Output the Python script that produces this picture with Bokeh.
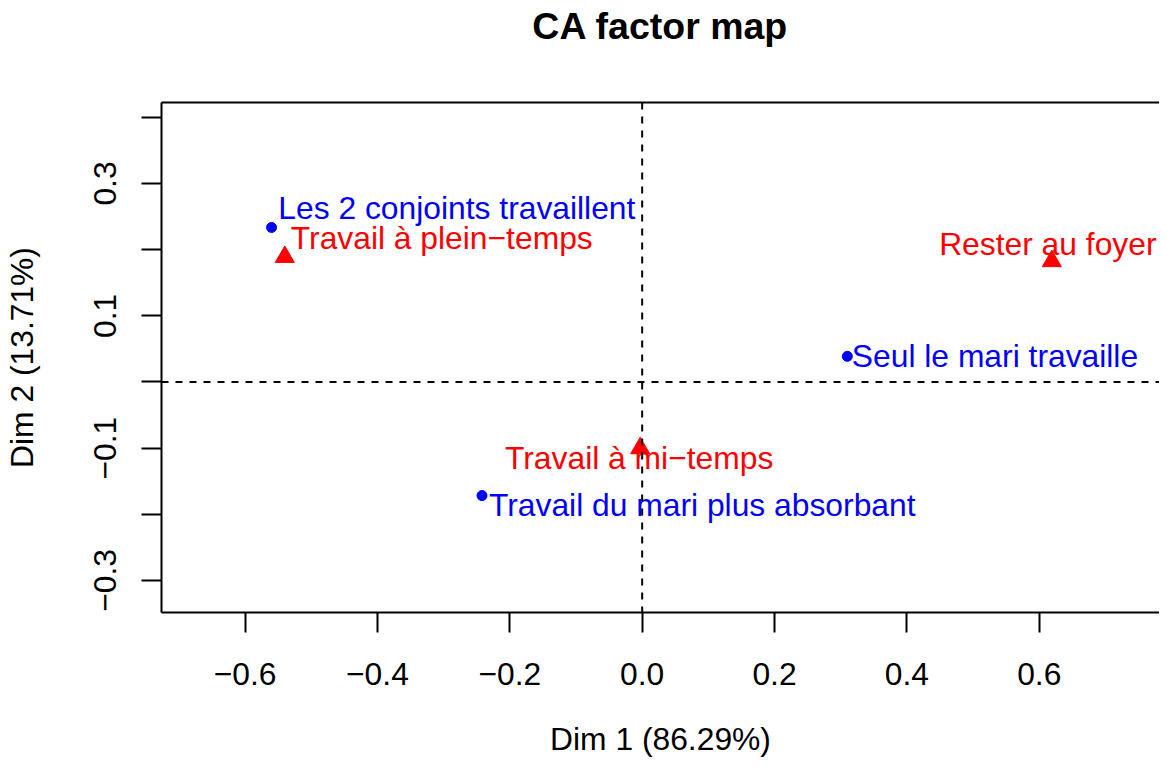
from bokeh.plotting import figure
from bokeh.models import ColumnDataSource, Span, LinearAxis, FixedTicker, Range1d
from bokeh.core.properties import value
from bokeh.embed import file_html
from bokeh.resources import INLINE

# ---- data -------------------------------------------------------------
row_labels = ["Les 2 conjoints travaillent", "Seul le mari travaille",
              "Travail du mari plus absorbant"]
row_dim1 = [-0.560, 0.310, -0.242]
row_dim2 = [0.2335, 0.0387, -0.1718]

col_labels = ["Travail à plein\u2212temps", "Rester au foyer", "Travail à mi\u2212temps"]
col_dim1 = [-0.540, 0.619, -0.003]
col_dim2 = [0.189, 0.1826, -0.1002]

x_ticks = [-0.6, -0.4, -0.2, 0.0, 0.2, 0.4, 0.6]
x_tick_labels = ["\u22120.6", "\u22120.4", "\u22120.2", "0.0", "0.2", "0.4", "0.6"]
y_ticks = [-0.3, -0.2, -0.1, 0.0, 0.1, 0.2, 0.3, 0.4]
y_tick_labels = ["\u22120.3", "", "\u22120.1", "", "0.1", "", "0.3", ""]

title_text = "CA factor map"
x_title = "Dim 1 (86.29%)"
y_title = "Dim 2 (13.71%)"

# ---- label placement (pixels, layout only) ----------------------------
BASE_SHIFT = -11.5
row_dx = [6.8, 4.5, 7.0]
row_dy = [d + BASE_SHIFT for d in [-8.4, 11.0, 20.5]]
col_left_idx = [0]
col_center_idx = [1, 2]
col_dx = [6.0, -4.0, -1.0]
col_dy = [d + BASE_SHIFT for d in [-7.7, -5.4, 21.7]]

FONT = "Liberation Sans"
FS = "31.8px"
BLUE = "#0000FF"
RED = "#FF0000"

p = figure(width=1159, height=759,
           x_range=Range1d(-0.7263, 0.7817), y_range=Range1d(-0.3485, 0.4224),
           output_backend="svg", toolbar_location=None,
           min_border_left=161, min_border_right=0,
           min_border_top=102, min_border_bottom=147)
p.grid.visible = False
p.outline_line_color = None
p.background_fill_color = "white"
p.border_fill_color = "white"

xa = p.xaxis[0]
xa.ticker = FixedTicker(ticks=x_ticks)
xa.major_label_overrides = dict(zip(x_ticks, x_tick_labels))
ya = p.yaxis[0]
ya.ticker = FixedTicker(ticks=y_ticks)
ya.major_label_overrides = dict(zip(y_ticks, y_tick_labels))
ya.major_label_orientation = "vertical"

for ax in (xa, ya):
    ax.axis_line_width = 2
    ax.axis_line_color = "black"
    ax.major_tick_line_width = 2
    ax.major_tick_line_color = "black"
    ax.major_tick_out = 20
    ax.major_tick_in = 0
    ax.minor_tick_line_color = None
    ax.major_label_text_font = FONT
    ax.major_label_text_font_size = FS
    ax.major_label_text_color = "black"
    ax.axis_label_text_font = FONT
    ax.axis_label_text_font_size = FS
    ax.axis_label_text_font_style = "normal"
    ax.axis_label_text_color = "black"

xa.axis_label = x_title
ya.axis_label = y_title
xa.major_label_standoff = 30
xa.axis_label_standoff = 33
ya.major_label_standoff = 25
ya.axis_label_standoff = 52

# top frame border; its axis label serves as the chart title
top = LinearAxis(ticker=FixedTicker(ticks=[]), axis_line_width=2,
                 axis_line_color="black", major_label_text_font_size="0px",
                 major_tick_line_color=None, minor_tick_line_color=None,
                 axis_label=title_text, axis_label_text_font=FONT,
                 axis_label_text_font_size="37.5px",
                 axis_label_text_font_style="bold",
                 axis_label_text_color="black",
                 axis_label_standoff=56)
p.add_layout(top, "above")

p.add_layout(Span(location=0, dimension="width", line_dash="7 7",
                  line_width=2, line_color="black"))
p.add_layout(Span(location=0, dimension="height", line_dash="7 7",
                  line_width=2, line_color="black"))

rows = ColumnDataSource(dict(x=row_dim1, y=row_dim2, label=row_labels,
                             dx=row_dx, dy=row_dy))
p.scatter("x", "y", source=rows, marker="circle", size=10,
          fill_color=BLUE, line_color=BLUE)
p.text("x", "y", text="label", source=rows, x_offset="dx", y_offset="dy",
       text_font=value(FONT), text_font_size=value(FS), text_color=BLUE,
       text_align="left", text_baseline="alphabetic")

cols = ColumnDataSource(dict(x=col_dim1, y=col_dim2, label=col_labels,
                             dx=col_dx, dy=col_dy))
p.scatter("x", "y", source=cols, marker="triangle", size=19,
          fill_color=RED, line_color=RED)


def sub(idx):
    return ColumnDataSource(dict(x=[col_dim1[i] for i in idx],
                                 y=[col_dim2[i] for i in idx],
                                 label=[col_labels[i] for i in idx],
                                 dx=[col_dx[i] for i in idx],
                                 dy=[col_dy[i] for i in idx]))


p.text("x", "y", text="label", source=sub(col_left_idx), x_offset="dx",
       y_offset="dy", text_font=value(FONT), text_font_size=value(FS),
       text_color=RED, text_align="left", text_baseline="alphabetic")
p.text("x", "y", text="label", source=sub(col_center_idx), x_offset="dx",
       y_offset="dy", text_font=value(FONT), text_font_size=value(FS),
       text_color=RED, text_align="center", text_baseline="alphabetic")

open("out.html", "w").write(file_html(p, INLINE))
